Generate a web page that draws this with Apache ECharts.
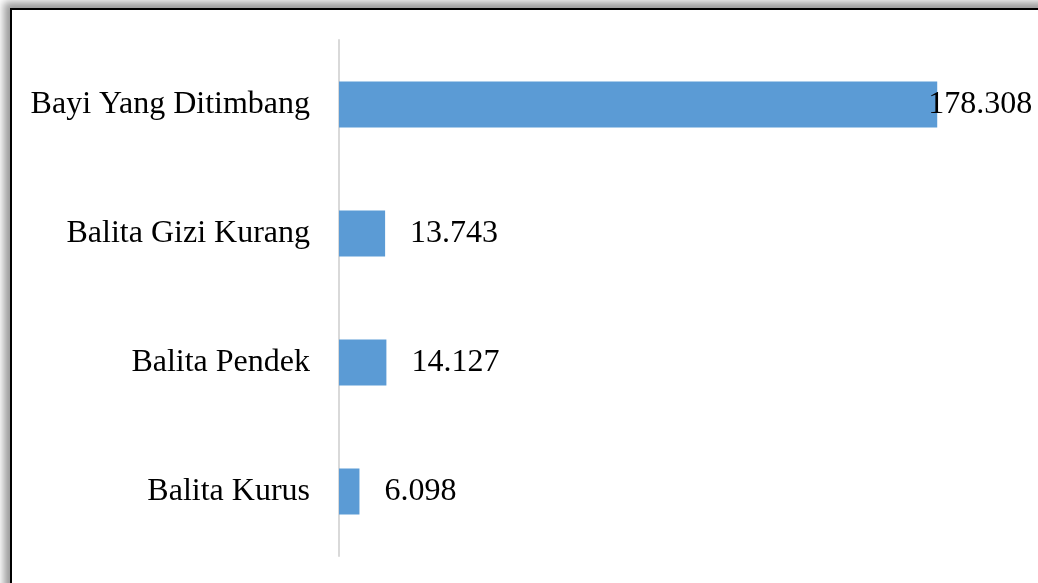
<!DOCTYPE html>
<html>
<head>
<meta charset="utf-8">
<script src="https://cdn.jsdelivr.net/npm/echarts@6/dist/echarts.min.js"></script>
<style>
  html, body { margin: 0; padding: 0; background: #fff; overflow: hidden; }
  #frame {
    position: absolute; left: 10px; top: 8px; width: 1200px; height: 800px;
    border: 2px solid #000; box-shadow: -6px -6px 8px #9a9a9a; background: #fff;
  }
  #main { position: absolute; left: 0; top: 0; width: 1038px; height: 583px; }
</style>
</head>
<body>
<div id="frame"></div>
<div id="main"></div>
<script>
// kategori dan nilai
var categories = ["Bayi Yang Ditimbang", "Balita Gizi Kurang", "Balita Pendek", "Balita Kurus"];
var values = [178308, 13743, 14127, 6098];

// format angka pakai titik sebagai pemisah ribuan
function fmt(v) {
  return String(v).replace(/\B(?=(\d{3})+(?!\d))/g, ".");
}

var myChart = echarts.init(document.getElementById("main"));

var data = values.map(function (v, i) {
  var item = { value: v };
  // label batang pertama menempel ke ujung batang
  if (i === 0) item.label = { distance: -9 };
  return item;
});

var option = {
  animation: false,
  grid: { left: 339, right: 28, top: 40, bottom: 27 },
  xAxis: {
    type: "value",
    min: 0,
    max: 200000,
    show: false,
  },
  yAxis: {
    type: "category",
    data: categories,
    inverse: true,
    axisLine: { show: true, lineStyle: { color: "#d9d9d9", width: 2 } },
    axisTick: { show: false },
    axisLabel: {
      margin: 29,
      color: "#000",
      fontFamily: "Liberation Serif",
      fontSize: 32,
    },
  },
  series: [
    {
      type: "bar",
      data: data,
      barWidth: 46,
      itemStyle: { color: "#5B9BD5" },
      label: {
        show: true,
        position: "right",
        distance: 25,
        color: "#000",
        fontFamily: "Liberation Serif",
        fontSize: 32,
        formatter: function (p) {
          return fmt(p.value);
        },
      },
    },
  ],
};
myChart.setOption(option);
</script>
</body>
</html>
